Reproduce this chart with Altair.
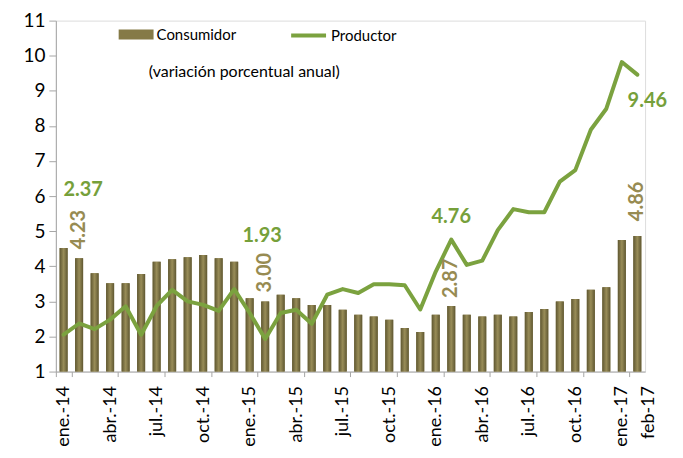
import altair as alt
import pandas as pd

meses = [
    "ene.-14", "feb.-14", "mar.-14", "abr.-14", "may.-14", "jun.-14",
    "jul.-14", "ago.-14", "sep.-14", "oct.-14", "nov.-14", "dic.-14",
    "ene.-15", "feb.-15", "mar.-15", "abr.-15", "may.-15", "jun.-15",
    "jul.-15", "ago.-15", "sep.-15", "oct.-15", "nov.-15", "dic.-15",
    "ene.-16", "feb.-16", "mar.-16", "abr.-16", "may.-16", "jun.-16",
    "jul.-16", "ago.-16", "sep.-16", "oct.-16", "nov.-16", "dic.-16",
    "ene.-17", "feb-17",
]
consumidor = [
    4.52, 4.23, 3.80, 3.52, 3.52, 3.78, 4.13, 4.20, 4.26, 4.32, 4.23, 4.13,
    3.09, 3.00, 3.19, 3.09, 2.90, 2.90, 2.76, 2.62, 2.57, 2.48, 2.24, 2.13,
    2.62, 2.87, 2.62, 2.57, 2.62, 2.57, 2.70, 2.78, 3.00, 3.07, 3.33, 3.40,
    4.75, 4.86,
]
productor = [
    2.05, 2.37, 2.21, 2.48, 2.86, 2.05, 2.87, 3.33, 3.00, 2.90, 2.73, 3.35,
    2.67, 1.93, 2.67, 2.76, 2.36, 3.19, 3.35, 3.24, 3.49, 3.49, 3.46, 2.77,
    3.85, 4.76, 4.04, 4.16, 5.03, 5.63, 5.54, 5.54, 6.41, 6.74, 7.89, 8.49,
    9.82, 9.46,
]
etiquetas_x = ["ene.-14", "abr.-14", "jul.-14", "oct.-14", "ene.-15", "abr.-15",
               "jul.-15", "oct.-15", "ene.-16", "abr.-16", "jul.-16", "oct.-16",
               "ene.-17", "feb-17"]
ticks_y = [1, 2, 3, 4, 5, 6, 7, 8, 9, 10, 11]

df = pd.DataFrame({
    "mes": meses,
    "Consumidor": consumidor,
    "Productor": productor,
    "s1": ["Consumidor"] * len(meses),
    "s2": ["Productor"] * len(meses),
})

FONT = "Lato"
KHAKI = "#857A47"
KHAKI_TXT = "#978B52"
GREEN = "#7BA23F"
GREEN_TXT = "#76A03A"

x_axis = alt.Axis(values=etiquetas_x, labelAngle=-90, labelFontSize=18, labelFont=FONT,
                  labelColor="black", tickBand="extent", tickSize=5, labelPadding=9,
                  labelOverlap=False, domainColor="#A6A6A6", tickColor="#A6A6A6",
                  labelOffset={"condition": {"test": "datum.value === 'feb-17'", "value": 11},
                               "value": 0},
                  tickOpacity={"condition": {"test": "datum.value === 'feb-17'", "value": 0},
                               "value": 1})
x_scale = alt.Scale(paddingInner=0, paddingOuter=0)
y_scale = alt.Scale(domain=[1, 11], zero=False, nice=False)
y_axis = alt.Axis(values=ticks_y, labelFontSize=19, labelFont=FONT, labelColor="black",
                  tickSize=7, labelPadding=4, grid=False, labelOverlap=False,
                  labelBound=False, domainColor="#A6A6A6", tickColor="#A6A6A6")


def X():
    return alt.X("mes:N", sort=meses, title=None, scale=x_scale, axis=x_axis)


def Y(campo):
    return alt.Y(f"{campo}:Q", title=None, scale=y_scale, axis=y_axis)


base = alt.Chart(df)

bars = base.mark_bar(size=8, clip=True).encode(
    x=X(),
    y=Y("Consumidor"),
    color=alt.Color("s1:N", scale=alt.Scale(domain=["Consumidor"], range=[KHAKI]),
                    legend=alt.Legend(orient="none", legendX=69.5, legendY=3, title=None,
                                      symbolType="M-1.75,-0.5L1.75,-0.5L1.75,0.5L-1.75,0.5Z",
                                      symbolSize=400, labelOffset=9.5, labelFontSize=15,
                                      labelFont=FONT, labelColor="black", symbolOpacity=1)),
)

bars_grad = base.mark_bar(size=8, clip=True, color={
    "gradient": "linear", "x1": 0, "x2": 1, "y1": 0, "y2": 0,
    "stops": [{"offset": 0, "color": "#5F5731"},
              {"offset": 0.5, "color": "#998D58"},
              {"offset": 1, "color": "#5F5731"}]}).encode(
    x=X(),
    y=Y("Consumidor"),
)

line = base.mark_line(strokeWidth=4, strokeJoin="round", strokeCap="round").encode(
    x=X(),
    y=Y("Productor"),
    stroke=alt.Stroke("s2:N", scale=alt.Scale(domain=["Productor"], range=[GREEN]),
                      legend=alt.Legend(orient="none", legendX=234, legendY=-4.5, title=None,
                                        symbolType="stroke", symbolSize=1225,
                                        symbolStrokeWidth=4, labelOffset=3, labelFontSize=15,
                                        labelFont=FONT, labelColor="black")),
)


def etiqueta_linea(mes, dx, dy):
    return base.transform_filter(alt.datum.mes == mes).mark_text(
        font=FONT, fontSize=20, fontWeight="bold", color=GREEN_TXT, dx=dx, dy=dy
    ).encode(x=X(), y=Y("Productor"),
             text=alt.Text("Productor:Q", format=".2f"))


def etiqueta_barra(mes, dx):
    return base.transform_filter(alt.datum.mes == mes).mark_text(
        font=FONT, fontSize=20, fontWeight="bold", color=KHAKI_TXT, angle=270,
        align="left", baseline="middle", dx=dx
    ).encode(x=X(), y=Y("Consumidor"),
             text=alt.Text("Consumidor:Q", format=".2f"))


subtitulo = alt.Chart(pd.DataFrame({"t": ["(variación porcentual anual)"]})).mark_text(
    font=FONT, fontSize=16, color="black"
).encode(x=alt.value(189), y=alt.value(52), text="t:N")

chart = alt.layer(
    bars, bars_grad, line,
    etiqueta_linea("feb.-14", 4, -134),
    etiqueta_linea("feb.-15", -3, -103),
    etiqueta_linea("feb.-16", 0, -23),
    etiqueta_linea("feb-17", 10, 26),
    etiqueta_barra("feb.-14", 9),
    etiqueta_barra("feb.-15", 9),
    etiqueta_barra("feb.-16", 8),
    etiqueta_barra("feb-17", 15),
    subtitulo,
).properties(
    width=591, height=352,
    autosize=alt.AutoSizeParams(type="none"),
    padding={"left": 48, "top": 12, "right": 30, "bottom": 78},
).configure_view(stroke=None).configure(font=FONT)

chart.save("out.html", embed_options={"renderer": "svg", "actions": False})
